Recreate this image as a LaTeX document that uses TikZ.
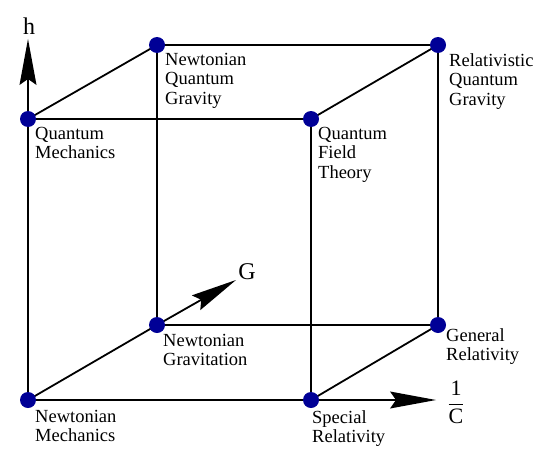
\documentclass[tikz,border=0pt]{standalone}
\usepackage{fontspec}
\setmainfont{Liberation Serif}
\usetikzlibrary{calc}
\tikzset{
  vtx/.style={circle,fill={rgb,255:red,0;green,0;blue,150},minimum size=16pt,inner sep=0pt},
  edge/.style={line width=1.8pt,black},
  lbl/.style={anchor=north west,inner sep=0pt,align=left,font=\fontsize{18.5}{19.5}\selectfont},
  axlbl/.style={inner sep=0pt,font=\fontsize{24}{26}\selectfont}
}
% arrowhead: #1 = tip, #2 = start of shaft
\newcommand{\bighead}[2]{%
  \fill[black] (#1) -- ($(#1)!46.8pt!10.5:(#2)$) -- ($(#1)!40pt!(#2)$) -- ($(#1)!46.8pt!-10.5:(#2)$) -- cycle;}
\begin{document}
\begin{tikzpicture}[x=1pt,y=-1pt]
\useasboundingbox (0,0) rectangle (545,460);
\coordinate (NMp) at (28,400);
\coordinate (SRp) at (311,400);
\coordinate (NGp) at (157,325);
\coordinate (GRp) at (438,325);
\coordinate (QMp) at (28,119);
\coordinate (QFTp) at (311,119);
\coordinate (NQGp) at (157,45);
\coordinate (RQGp) at (438,45);
\coordinate (htip) at (28,39);
\coordinate (Gtip) at (236,280);
\coordinate (Ctip) at (436,400);
% edges
\draw[edge] (NMp) -- (SRp) -- (GRp) -- (NGp);
\draw[edge] (NMp) -- (QMp) -- (QFTp) -- (SRp);
\draw[edge] (QMp) -- (NQGp) -- (RQGp) -- (QFTp);
\draw[edge] (NGp) -- (NQGp);
\draw[edge] (GRp) -- (RQGp);
\draw[edge] (NMp) -- (NGp);
% axes
\draw[edge] (QMp) -- ($(htip)!30pt!(QMp)$);
\bighead{htip}{QMp}
\draw[edge] (NGp) -- ($(Gtip)!30pt!(NGp)$);
\bighead{Gtip}{NGp}
\draw[edge] (SRp) -- ($(Ctip)!30pt!(SRp)$);
\bighead{Ctip}{SRp}
\node[axlbl] (h) at (29,26) {h};
\node[axlbl] (G) at (247,272) {G};
\node[axlbl] (C) at (456,402) {\fontsize{22}{24}\selectfont$\displaystyle\frac{\mathrm{1}}{\mathrm{C}}$};
% vertices
\node[vtx] (NM) at (NMp) {};
\node[vtx] (SR) at (SRp) {};
\node[vtx] (NG) at (NGp) {};
\node[vtx] (GR) at (GRp) {};
\node[vtx] (QM) at (QMp) {};
\node[vtx] (QFT) at (QFTp) {};
\node[vtx] (NQG) at (NQGp) {};
\node[vtx] (RQG) at (RQGp) {};
% labels
\node[lbl] (lNM) at (35,410) {Newtonian\\Mechanics};
\node[lbl] (lSR) at (312,410) {Special\\Relativity};
\node[lbl] (lNG) at (163,334) {Newtonian\\Gravitation};
\node[lbl] (lGR) at (446,328) {General\\Relativity};
\node[lbl] (lQM) at (35,127) {Quantum\\Mechanics};
\node[lbl] (lQFT) at (318,127) {Quantum\\Field\\Theory};
\node[lbl] (lNQG) at (165,53) {Newtonian\\Quantum\\Gravity};
\node[lbl] (lRQG) at (449,53) {Relativistic\\Quantum\\Gravity};
\end{tikzpicture}
\end{document}
